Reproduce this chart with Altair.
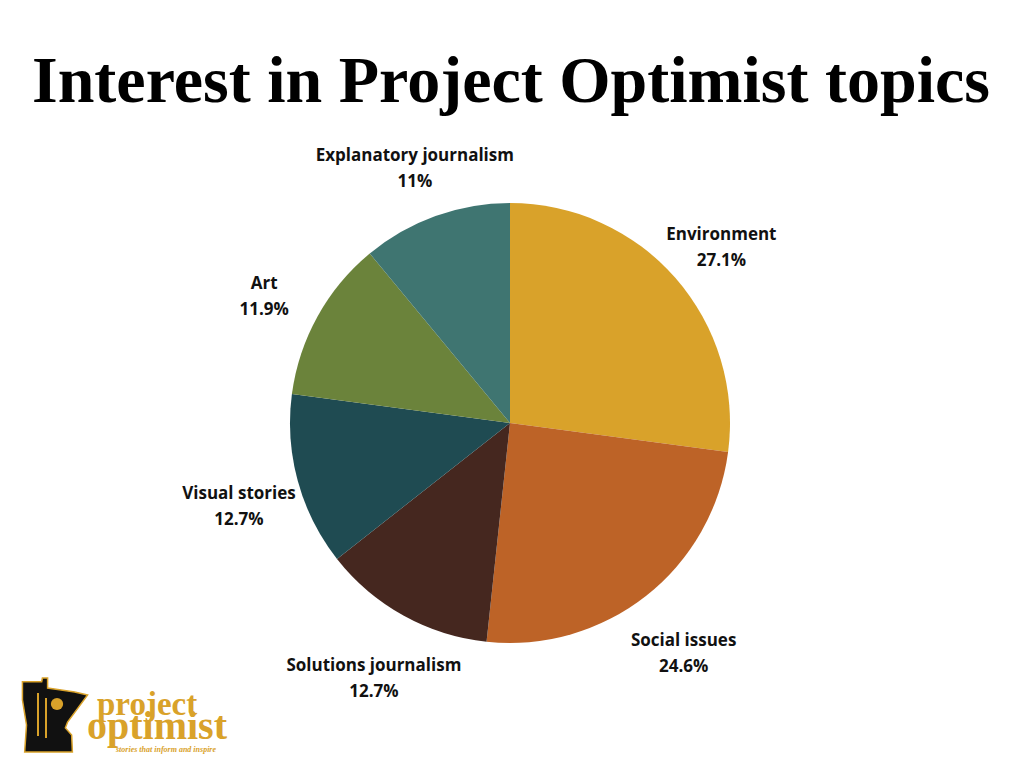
import altair as alt
import pandas as pd

topics = ["Environment", "Social issues", "Solutions journalism", "Visual stories", "Art", "Explanatory journalism"]
shares = [27.1, 24.6, 12.7, 12.7, 11.9, 11.0]
share_labels = ["27.1%", "24.6%", "12.7%", "12.7%", "11.9%", "11%"]
colors = ["#D9A22A", "#BD6327", "#45271F", "#1F4B52", "#6B833B", "#3F7571"]

df = pd.DataFrame({
    "topic": topics,
    "share": shares,
    "order": list(range(len(topics))),
    "label": [[t, s] for t, s in zip(topics, share_labels)],
})

W, H = 1008, 752
cx, cy = 502, 415
GOLD = "#D9A22A"

base = alt.Chart(df).encode(
    theta=alt.Theta("share:Q", stack=True),
    order=alt.Order("order:Q"),
)

pie = base.mark_arc(radius=220).encode(
    x=alt.value(cx), y=alt.value(cy),
    color=alt.Color("topic:N", scale=alt.Scale(domain=topics, range=colors), legend=None),
)

labels = base.mark_text(radius=281, font="Open Sans", fontWeight="bold", fontSize=17,
                        lineHeight=26, baseline="middle", dy=-3, color="#111111").encode(
    x=alt.value(cx), y=alt.value(cy),
    text="label",
)

title_df = pd.DataFrame({"t": ["Interest in Project Optimist topics"]})
title = alt.Chart(title_df).mark_text(font="Liberation Serif", fontWeight="bold", fontSize=66,
                                      align="center", baseline="alphabetic", color="#000000").encode(
    x=alt.value(503), y=alt.value(94), text="t")

# logo: Minnesota outline with sun and trees, plus wordmark
mn_path = ("M -0.88 -0.9 L -0.36 -0.9 L -0.34 -1 L -0.2 -1 L -0.2 -0.73 L 0.12 -0.68 "
           "L 0.53 -0.62 L 0.88 -0.54 L 0.34 0.19 L 0.28 0.35 L 0.45 0.54 L 0.47 1 "
           "L -0.82 1 L -0.77 0.27 L -0.88 -0.41 Z")
icon_df = pd.DataFrame({"k": ["map"]})
icon = alt.Chart(icon_df).mark_point(shape=mn_path, filled=True, fill="#111111", stroke=GOLD,
                                     strokeWidth=1.5, size=5476, opacity=1).encode(
    x=alt.value(47), y=alt.value(707))
sun = alt.Chart(icon_df).mark_point(shape="circle", filled=True, fill=GOLD, size=150, opacity=1).encode(
    x=alt.value(49), y=alt.value(696))
trees = alt.Chart(icon_df).mark_rule(color=GOLD, strokeWidth=2).encode(
    x=alt.value(30), y=alt.value(685), y2=alt.value(728))
trees2 = alt.Chart(icon_df).mark_rule(color=GOLD, strokeWidth=2).encode(
    x=alt.value(38), y=alt.value(690), y2=alt.value(730))

logo_df = pd.DataFrame({
    "t": ["project", "optimist"],
    "x": [89, 79],
    "y": [707, 731],
    "size": [33, 40],
})
logo = alt.Chart(logo_df).mark_text(font="Liberation Serif", fontWeight="bold", align="left",
                                    baseline="alphabetic", color=GOLD).encode(
    x=alt.X("x:Q", scale=None), y=alt.Y("y:Q", scale=None), text="t",
    size=alt.Size("size:Q", scale=None),
)
tag_df = pd.DataFrame({"t": ["stories that inform and inspire"]})
tag = alt.Chart(tag_df).mark_text(font="Liberation Serif", fontWeight="bold", fontStyle="italic",
                                  fontSize=8, align="left", baseline="alphabetic", color=GOLD).encode(
    x=alt.value(108), y=alt.value(744), text="t")

chart = alt.layer(pie, labels, title, icon, sun, trees, trees2, logo, tag).properties(
    width=W, height=H, padding=0, autosize="none", background="white"
).configure_view(stroke=None)

chart.save("out.html", embed_options={"renderer": "svg", "actions": False})
